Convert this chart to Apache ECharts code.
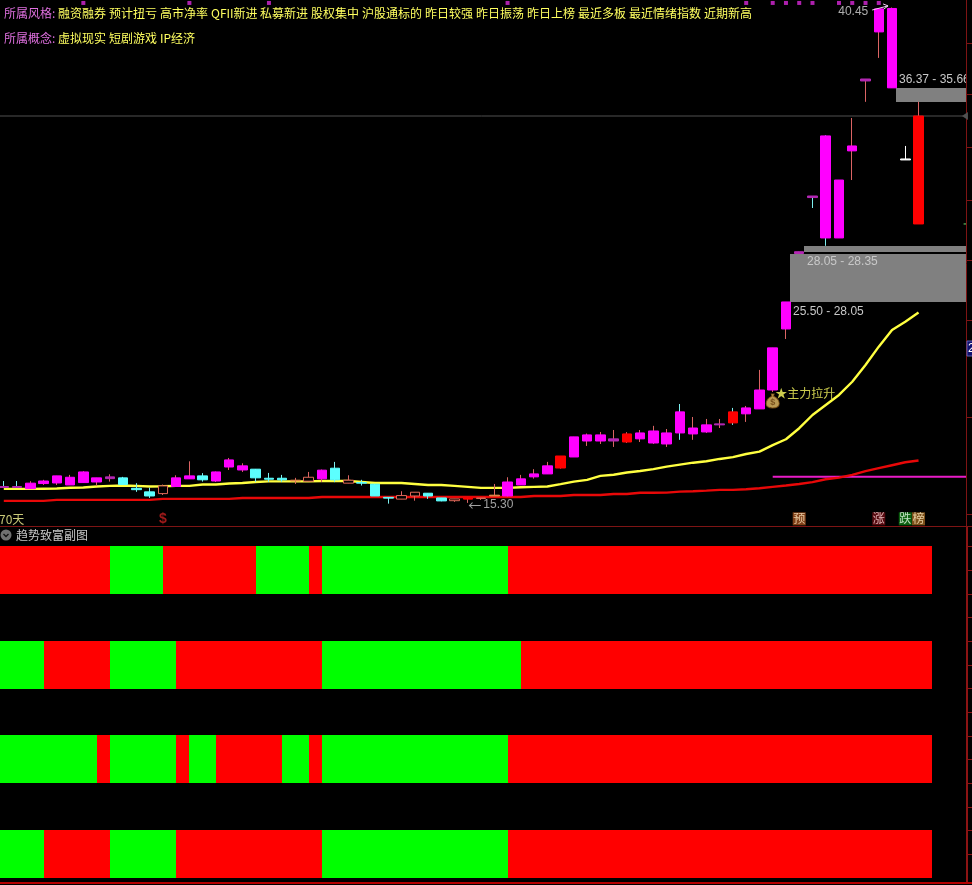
<!DOCTYPE html>
<html><head><meta charset="utf-8">
<style>html,body{margin:0;padding:0;background:#000}#c{width:972px;height:885px}</style>
<script src="https://cdn.jsdelivr.net/npm/echarts@6/dist/echarts.min.js"></script>
</head><body><div id="c"></div>
<script>
const open  = [16.08,16.08,16.02,16.28,16.31,16.21,16.33,16.36,16.53,16.57,16.04,15.86,15.77,16.13,16.52,16.67,16.41,17.12,16.97,17.01,16.55,16.55,16.41,16.40,16.52,17.06,16.30,16.33,16.25,15.58,15.49,15.65,15.79,15.55,15.41,15.49,15.52,15.65,15.65,16.21,16.62,16.77,17.07,17.63,18.44,18.44,18.44,18.39,18.55,18.34,18.29,18.85,18.80,18.90,19.26,19.36,19.82,20.07,21.03,24.13,27.96,30.80,28.75,28.75,33.17,36.72,39.21,36.37,32.71,29.46];
const close = [16.13,16.13,16.30,16.41,16.67,16.60,16.87,16.57,16.62,16.23,15.97,15.65,16.16,16.57,16.67,16.47,16.87,17.48,17.18,16.57,16.50,16.47,16.45,16.60,16.96,16.47,16.45,16.30,15.65,15.54,15.67,15.84,15.65,15.40,15.50,15.55,15.55,15.69,16.36,16.52,16.77,17.18,17.68,18.65,18.75,18.75,18.55,18.80,18.85,18.95,18.85,19.92,19.10,19.26,19.31,19.92,20.12,21.03,23.17,25.50,28.05,30.88,33.93,31.69,33.42,36.82,40.38,40.40,32.76,34.94];
const low   = [16.06,16.06,16.01,16.21,16.21,16.21,16.33,16.16,16.38,16.21,15.86,15.55,15.70,16.13,16.52,16.38,16.36,16.97,16.87,16.36,16.36,16.36,16.26,16.40,16.36,16.35,16.30,16.18,15.65,15.26,15.49,15.41,15.50,15.38,15.35,15.30,15.45,15.65,15.62,16.21,16.53,16.77,17.04,17.63,18.19,18.29,18.14,18.34,18.39,18.29,18.14,18.50,18.50,18.85,19.10,19.26,19.41,20.07,20.93,23.62,27.96,30.27,28.35,28.75,31.69,35.66,37.89,36.37,32.71,29.46];
const high  = [16.41,16.41,16.40,16.47,16.67,16.72,16.91,16.57,16.75,16.62,16.30,16.07,16.23,16.70,17.41,16.81,16.89,17.58,17.31,17.02,16.82,16.72,16.57,16.87,16.99,17.38,16.70,16.47,16.25,15.58,15.89,15.84,15.79,15.55,15.50,15.55,15.55,16.26,16.60,16.72,17.01,17.38,17.68,18.65,18.82,18.90,19.00,18.89,19.00,19.21,19.05,20.32,19.66,19.56,19.56,20.12,20.22,22.05,23.17,25.50,28.05,30.88,33.96,31.69,34.84,36.82,40.38,40.45,33.42,35.66];
const bodyTone = "PPMMMMMMPCCCHMMCMMMCCCOHMCHCCCHHCCHRHOMMMMRMMMPRMMMMMMPRMMMMPPMMMPMMWR".split("");
const wickTone = "CCSSSSSSSCCCSSSCSSSCCCSSSCSCCCSSCCSSSSSSSSSSSSSSSSSCSSSCSSSSSCCSSSSSWS".split("");
const maFast = [16.01,16.01,16.01,16.02,16.03,16.07,16.08,16.13,16.16,16.18,16.16,16.13,16.14,16.16,16.16,16.23,16.23,16.28,16.31,16.36,16.39,16.39,16.39,16.39,16.41,16.41,16.41,16.36,16.31,16.31,16.31,16.26,16.21,16.21,16.16,16.11,16.06,16.06,16.06,16.09,16.11,16.13,16.25,16.38,16.47,16.67,16.73,16.84,16.92,17.01,17.14,17.24,17.34,17.41,17.53,17.62,17.78,17.90,18.23,18.53,19.09,19.76,20.27,20.78,21.45,22.30,23.23,24.08,24.50,24.96];
const maSlow = [15.40,15.40,15.40,15.40,15.45,15.45,15.45,15.45,15.45,15.45,15.45,15.45,15.50,15.50,15.50,15.50,15.50,15.50,15.55,15.55,15.55,15.55,15.55,15.55,15.60,15.60,15.60,15.60,15.60,15.60,15.60,15.60,15.60,15.60,15.60,15.60,15.60,15.60,15.60,15.60,15.65,15.65,15.65,15.70,15.70,15.70,15.75,15.75,15.81,15.81,15.82,15.87,15.89,15.92,15.96,15.96,15.99,16.04,16.11,16.18,16.26,16.35,16.50,16.58,16.72,16.91,17.06,17.21,17.36,17.45];
const signalRow1 = [0,0,0,0,0,0,0,0,1,1,1,1,0,0,0,0,0,0,0,1,1,1,1,0,1,1,1,1,1,1,1,1,1,1,1,1,1,1,0,0,0,0,0,0,0,0,0,0,0,0,0,0,0,0,0,0,0,0,0,0,0,0,0,0,0,0,0,0,0,0];
const signalRow2 = [1,1,1,0,0,0,0,0,1,1,1,1,1,0,0,0,0,0,0,0,0,0,0,0,1,1,1,1,1,1,1,1,1,1,1,1,1,1,1,0,0,0,0,0,0,0,0,0,0,0,0,0,0,0,0,0,0,0,0,0,0,0,0,0,0,0,0,0,0,0];
const signalRow3 = [1,1,1,1,1,1,1,0,1,1,1,1,1,0,1,1,0,0,0,0,0,1,1,0,1,1,1,1,1,1,1,1,1,1,1,1,1,1,0,0,0,0,0,0,0,0,0,0,0,0,0,0,0,0,0,0,0,0,0,0,0,0,0,0,0,0,0,0,0,0];
const signalRow4 = [1,1,1,0,0,0,0,0,1,1,1,1,1,0,0,0,0,0,0,0,0,0,0,0,1,1,1,1,1,1,1,1,1,1,1,1,1,1,0,0,0,0,0,0,0,0,0,0,0,0,0,0,0,0,0,0,0,0,0,0,0,0,0,0,0,0,0,0,0,0];
const gapStart = [59,60,67];
const gapLow   = [25.50,28.05,35.66];
const gapHigh  = [28.05,28.35,36.37];
const gapText  = ["25.50 - 28.05","28.05 - 28.35","36.37 - 35.66"];
const topMarkIndex = [6,14,20,38,56,58,59,60,61,63,64,65,66];
const topMarkPrice = 40.68;
const lastPrice = 34.94, prevPrice = 29.46, supportPrice = 16.62, supportStart = 58;
const priceTicks = [38.65,36.06,33.37,30.68,27.63,24.59,19.66,14.74];
const subTicks = [0.25,0.5,0.75,1,1.25,1.5,1.75,2,2.25,2.5,2.75,3,3.25,3.5];
const styleTags = ["融资融券","预计扭亏","高市净率","QFII新进","私募新进","股权集中","沪股通标的","昨日较强","昨日振荡","昨日上榜","最近多板","最近情绪指数","近期新高"];
const conceptTags = ["虚拟现实","短剧游戏","IP经济"];
const flagIndex = [60,66,68,69];
const flagText = ["预","涨","跌","榜"];
const slotCount = 74;
const categories = Array.from({length:slotCount},(_,i)=>String(i));

const X0=3.8, SLOT=13.257, LEFT=X0-SLOT/2, AXIS_END=(966-X0)/SLOT, GRID_W=SLOT*slotCount, AX_OFF=966.5-(LEFT+GRID_W);
const TONE={M:"#ff00ff",R:"#ff0000",C:"#5cffff",H:"#e06858",P:"#b428b4",O:"#e08848",W:"#ffffff"};
const WICK={S:"#dc6464",C:"#7cf0f0",W:"#ffffff"};
const FLAG_BG=["#a0501e","#6c0c14","#107814","#9c6420"], FLAG_FG=["#ffe8c0","#ffd8d8","#ecffec","#ffecc0"];
const FONT='"Noto Sans CJK SC","Noto Sans",sans-serif', NUM='"Liberation Sans",Arial,sans-serif';

const wickData=open.map((o,i)=>{const c=WICK[wickTone[i]];return {value:[o,close[i],low[i],high[i]],itemStyle:{color:c,color0:c,borderColor:c,borderColor0:c}};});
const bodyData=open.map((o,i)=>{const t=bodyTone[i],c=TONE[t],f=t==="H"?"#000":c;return {value:[o,close[i],Math.min(o,close[i]),Math.max(o,close[i])],itemStyle:{color:f,color0:f,borderColor:c,borderColor0:c}};});

const bandCells=[];
[signalRow4,signalRow3,signalRow2,signalRow1].forEach((row,r)=>row.forEach((s,i)=>bandCells.push([i,r,s])));

function levelSeries(fromIdx,toIdx,price,color,w,tri){
  return {type:"custom",xAxisIndex:1,yAxisIndex:0,z:2,silent:true,data:[[fromIdx,price]],
    renderItem(p,api){
      const a=api.coord([fromIdx,price]),b=api.coord([toIdx,price]);
      const x0=fromIdx<0?0:a[0];
      const ch=[{type:"line",shape:{x1:x0,y1:a[1],x2:b[0],y2:a[1]},style:{stroke:color,lineWidth:w}}];
      if(tri) ch.push({type:"polygon",shape:{points:[[b[0]-1,a[1]],[b[0]+5,a[1]-4],[b[0]+5,a[1]+4]]},style:{fill:color}});
      return {type:"group",children:ch};
    }};
}

const chart=echarts.init(document.getElementById("c"),null,{renderer:"canvas"});
const tagX=[58,109,160,211,260,311,362,425,476,527,578,629,704], conceptX=[58,109,160];
const txt=(t,x,y,fill,font)=>({type:"text",x,y,silent:true,z:20,style:{text:t,fill,font:font||("12px "+FONT),textVerticalAlign:"middle"}});
const graphic=[
  txt("所属风格:",4,13,"#e070e0"),txt("所属概念:",4,38,"#e070e0"),
  ...styleTags.map((t,i)=>txt(t,tagX[i],13,"#ffff60")),
  ...conceptTags.map((t,i)=>txt(t,conceptX[i],38,"#ffff60")),
  txt("70天",-1,519,"#c8c878"),
  txt("趋势致富副图",16,535,"#c8c8c8"),
  {type:"circle",shape:{cx:6,cy:535,r:5.5},style:{fill:"#707070"},z:20,silent:true},
  {type:"polyline",shape:{points:[[3.5,534],[6,536.5],[8.5,534]]},style:{stroke:"#111",lineWidth:1.4,fill:null},z:21,silent:true},
  {type:"rect",shape:{x:967,y:341,width:6,height:15},style:{fill:"#101070",stroke:"#6060b0",lineWidth:1},z:20,silent:true},
  txt("2",968,349,"#ffffff","12px "+NUM)
];
const note=(v,formatter,color,font,extra)=>({value:v,label:Object.assign({show:true,formatter,color,fontFamily:font,fontSize:12},extra)});

chart.setOption({
  animation:false,backgroundColor:"#000",graphic,
  grid:[
    {left:LEFT,top:0,width:GRID_W,height:526.5,outerBoundsMode:"none"},
    {left:LEFT,top:527,width:GRID_W,height:356,outerBoundsMode:"none"}
  ],
  xAxis:[
    {type:"category",gridIndex:0,data:categories,axisLine:{show:true,onZero:false,lineStyle:{color:"#7e1414"}},axisTick:{show:false},axisLabel:{show:false},splitLine:{show:false}},
    {type:"value",gridIndex:0,min:-0.5,max:slotCount-0.5,show:false,splitLine:{show:false}},
    {type:"category",gridIndex:1,data:categories,axisLine:{show:true,onZero:false,lineStyle:{color:"#b40000",width:2}},axisTick:{show:false},axisLabel:{show:false},splitLine:{show:false}}
  ],
  yAxis:[
    {type:"value",gridIndex:0,position:"right",offset:AX_OFF,min:14.10,max:40.83,
     axisLine:{show:true,onZero:false,lineStyle:{color:"#7e1414"}},axisTick:{show:true,length:6,customValues:priceTicks,lineStyle:{color:"#7e1414"}},axisLabel:{show:false},splitLine:{show:false}},
    {type:"value",gridIndex:1,position:"right",offset:AX_OFF,min:-0.0528,max:3.7076,
     axisLine:{show:true,onZero:false,lineStyle:{color:"#8c1414",width:2}},axisTick:{show:true,length:6,customValues:subTicks,lineStyle:{color:"#8c1414"}},axisLabel:{show:false},splitLine:{show:false}}
  ],
  series:[
    {type:"custom",name:"gaps",xAxisIndex:1,yAxisIndex:0,z:1,silent:true,
     data:gapStart.map((s,i)=>[s,gapLow[i],gapHigh[i],i]),
     renderItem(p,api){
       const s=api.value(0),lo=api.value(1),hi=api.value(2),i=api.value(3);
       const a=api.coord([s+0.33,hi]),b=api.coord([AXIS_END,lo]);
       const above=i===2, inset=i===0?2:0;
       const xr=Math.round(a[0]), yt=Math.round(a[1]);
       return {type:"group",children:[
         {type:"rect",shape:{x:xr,y:yt+inset,width:Math.round(b[0]-a[0]),height:Math.max(1,Math.round(b[1])-yt-inset)},style:{fill:"#808080"}},
         {type:"text",x:xr+3,y:above?a[1]-8:b[1]+9.5,z2:5,
          clipPath:{type:"rect",shape:{x:-4,y:-12,width:966-xr-3+4,height:24}},
          style:{text:gapText[i],fill:"#c8c8c8",font:"12px "+NUM,textVerticalAlign:"middle"}}
       ]};
     }},
    levelSeries(-1,72.35,lastPrice,"#505050",1,true),
    levelSeries(supportStart,AXIS_END,supportPrice,"#e81cc8",2,false),
    levelSeries(72.4,AXIS_END,prevPrice,"#70e070",1,false),
    {type:"line",name:"MA slow",xAxisIndex:0,yAxisIndex:0,data:maSlow,symbol:"none",z:3,lineStyle:{color:"#e80808",width:2.4},silent:true},
    {type:"line",name:"MA fast",xAxisIndex:0,yAxisIndex:0,data:maFast,symbol:"none",z:3,lineStyle:{color:"#ffff40",width:2.4},silent:true},
    {type:"candlestick",name:"wick",xAxisIndex:0,yAxisIndex:0,data:wickData,barWidth:1,z:4,silent:true,itemStyle:{borderWidth:1}},
    {type:"candlestick",name:"body",xAxisIndex:0,yAxisIndex:0,data:bodyData,barWidth:10,z:5,silent:true,itemStyle:{borderWidth:1}},
    {type:"scatter",name:"top marks",xAxisIndex:0,yAxisIndex:0,z:6,silent:true,symbol:"rect",symbolSize:4,
     itemStyle:{color:"#d828d8"},data:topMarkIndex.map(i=>[i,topMarkPrice])},
    {type:"scatter",name:"notes",xAxisIndex:0,yAxisIndex:0,z:7,silent:true,symbol:"circle",symbolSize:1,itemStyle:{color:"transparent"},
     data:[
      note([35,15.20],"{a|←}{b|15.30}","#c8c8c8",NUM,{position:"right",distance:0,rich:{a:{fontFamily:FONT,fontSize:13,color:"#c8c8c8"},b:{fontFamily:NUM,fontSize:12,color:"#c8c8c8",padding:[0,0,0,2]}}}),
      note([66,40.22],"40.45","#d8d8d8",NUM,{position:"left",distance:0,offset:[-10,0]}),
      note([58,20.88],"★主力拉升","#ffff60",FONT,{position:"right",distance:2}),
      note([12,14.49],"$","#c82020",NUM,{position:"inside",fontWeight:"bold",fontSize:14})
     ]},
    {type:"custom",name:"high arrow",xAxisIndex:1,yAxisIndex:0,z:7,silent:true,data:[[65.5,40.32,66.7,40.53]],
     renderItem(p,api){
       const a=api.coord([api.value(0),api.value(1)]),b=api.coord([api.value(2),api.value(3)]);
       return {type:"group",children:[
         {type:"line",shape:{x1:a[0],y1:a[1],x2:b[0],y2:b[1]},style:{stroke:"#f0d0f0",lineWidth:1}},
         {type:"polyline",shape:{points:[[b[0]-5,b[1]-2],[b[0],b[1]],[b[0]-4,b[1]+3]]},style:{stroke:"#f0d0f0",lineWidth:1,fill:null}}
       ]};
     }},
    {type:"scatter",name:"flags",xAxisIndex:0,yAxisIndex:0,z:7,silent:true,symbol:"rect",symbolSize:13,
     data:flagIndex.map((x,k)=>({value:[x,14.49],itemStyle:{color:FLAG_BG[k]},
       label:{show:true,position:"inside",formatter:flagText[k],color:FLAG_FG[k],fontFamily:FONT,fontSize:12}}))},
    {type:"scatter",name:"money bag",xAxisIndex:0,yAxisIndex:0,z:8,silent:true,
     symbol:"path://M7 0 L11 0 L10 3 C15 5 18 9 18 13 C18 17 14 19 9 19 C4 19 0 17 0 13 C0 9 3 5 8 3 Z",symbolSize:[13,14],
     itemStyle:{color:"#e8c068",borderColor:"#8a5a18",borderWidth:1},
     label:{show:true,position:"inside",formatter:"$",color:"#6a4010",fontFamily:NUM,fontWeight:"bold",fontSize:9,offset:[0,1]},
     data:[[58,20.47]]},
    {type:"custom",name:"signal bands",xAxisIndex:2,yAxisIndex:1,z:2,silent:true,data:bandCells,
     renderItem(p,api){
       const i=api.value(0),r=api.value(1),s=api.value(2);
       const a=api.coord([i,r+0.507]),b=api.coord([i+1,r]);
       const x0=i===0?0:Math.round(a[0]),x1=Math.round(b[0]);
       const y0=Math.round(a[1]),y1=Math.round(b[1]);
       return {type:"rect",shape:{x:x0,y:y0,width:x1-x0,height:y1-y0},style:{fill:s?"#00ff00":"#ff0000"}};
     }}
  ]
});
</script></body></html>
